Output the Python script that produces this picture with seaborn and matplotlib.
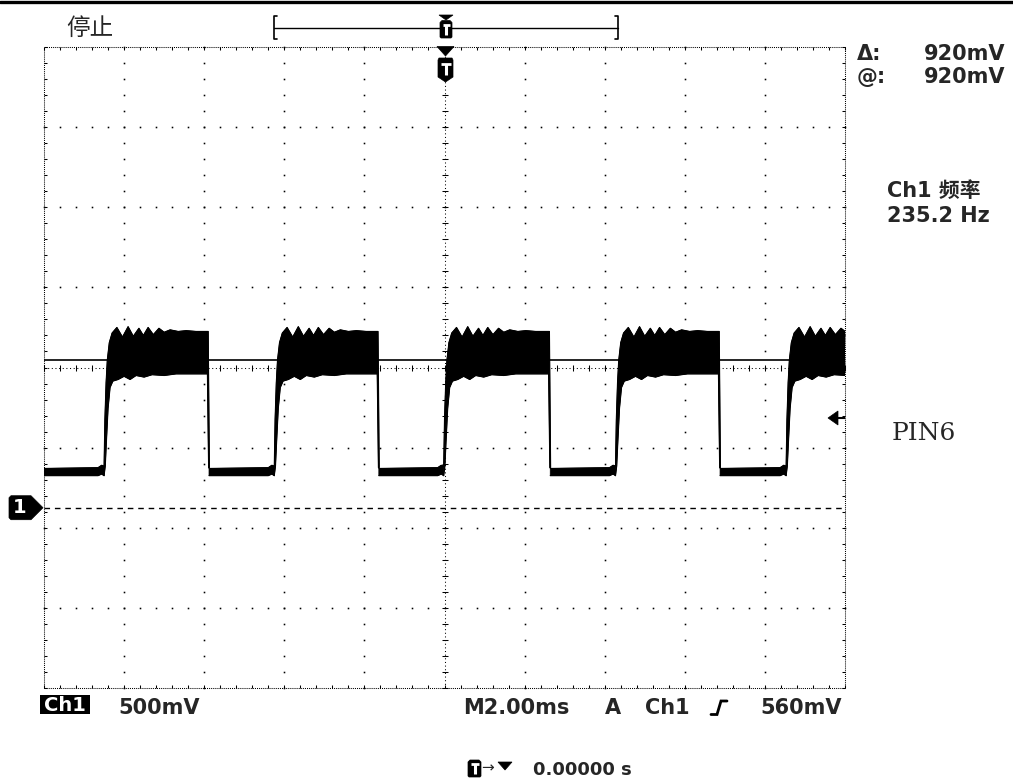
import numpy as np
import pandas as pd
import matplotlib
matplotlib.use("Agg")
import matplotlib.pyplot as plt
import seaborn as sns
from matplotlib.patches import Polygon, Rectangle
from matplotlib.lines import Line2D
from matplotlib.collections import LineCollection

# ---------------- data ----------------
ms_per_div = 2.0
volts_per_div = 0.5
center_v = 0.875
rise_times_ms = [-8.50, -4.25, -0.02, 4.27, 8.53]
fall_times_ms = [-5.90, -1.66, 2.62, 6.86]
upper_dt_ms = [0.00, 0.02, 0.05, 0.08, 0.13, 0.20, 0.32, 0.46, 0.60, 0.73,
               0.87, 0.98, 1.10, 1.23, 1.37, 1.50, 1.65, 1.85, 2.05, 2.30]
upper_v = [0.26, 0.55, 0.78, 0.92, 1.03, 1.09, 1.125, 1.065, 1.13, 1.07,
           1.12, 1.075, 1.125, 1.08, 1.12, 1.095, 1.11, 1.10, 1.105, 1.10]
lower_dt_ms = [0.00, 0.03, 0.06, 0.10, 0.15, 0.22, 0.35, 0.50, 0.65, 0.80,
               1.00, 1.20, 1.50, 1.80, 2.30]
lower_v = [0.20, 0.26, 0.42, 0.62, 0.75, 0.79, 0.80, 0.82, 0.80, 0.825,
           0.815, 0.83, 0.825, 0.835, 0.835]
plateau_top_v = 1.10
plateau_bottom_v = 0.835
low_top_v = 0.245
low_bottom_v = 0.200
pre_rise_dt_ms = [-0.15, -0.06, 0.0]
pre_rise_top_v = [0.25, 0.265, 0.26]
pre_rise_bottom_v = [0.20, 0.21, 0.20]
fall_foot_v = 0.25
cursor_v = 0.92
trigger_v = 0.56
ground_v = 0.0

status_label = "停止"
cursor_delta_label = "920mV"
cursor_at_label = "920mV"
freq_title = "Ch1 频率"
freq_value = "235.2 Hz"
channel_name = "PIN6"
ch_label = "Ch1"
volt_scale_label = "500mV"
time_scale_label = "M2.00ms"
trig_mode_label = "A"
trig_src_label = "Ch1"
trig_level_label = "560mV"
trig_pos_label = "0.00000 s"

# ---------------- figure ----------------
sns.set_style("white")
plt.rcParams['font.family'] = ['DejaVu Sans', 'Noto Sans CJK SC']

W, H = 1013, 780
fig = plt.figure(figsize=(W / 100, H / 100), dpi=100)
fig.patch.set_facecolor("white")
ax = fig.add_axes([44 / W, (H - 688) / H, 801 / W, 641 / H])
x0, x1 = -5 * ms_per_div, 5 * ms_per_div
y0, y1 = center_v - 4 * volts_per_div, center_v + 4 * volts_per_div
ax.set_xlim(x0, x1)
ax.set_ylim(y0, y1)
ax.axis("off")

pt = (x1 - x0) / 801.0   # ms per pixel
pv = (y1 - y0) / 641.0   # V per pixel

# ---------------- graticule ----------------
dot = dict(ls="none", marker="s", ms=1.15, mew=0, color="black", clip_on=False)
major_t = x0 + np.arange(11) * ms_per_div
major_v = y0 + np.arange(9) * volts_per_div
minor_t = x0 + np.arange(51) * ms_per_div / 5
minor_v = y0 + np.arange(41) * volts_per_div / 5
for t in major_t[1:-1]:
    if abs(t) < 1e-9:
        continue
    ax.plot(np.full_like(minor_v, t), minor_v, **dot)
for v in major_v[1:-1]:
    if abs(v - center_v) < 1e-9:
        continue
    ax.plot(minor_t, np.full_like(minor_t, v), **dot)

dense = dict(color="black", lw=0.75, clip_on=False)
ax.plot([0, 0], [y0, y1], ls=(0, (1, 2.5)), **dense)
ax.plot([x0, x1], [center_v, center_v], ls=(0, (1, 2.5)), **dense)
ax.plot([x0, x1, x1, x0, x0], [y0, y0, y1, y1, y0], ls=(0, (1, 1)), **dense)

ticks = []
for v in minor_v:
    ticks.append([(-3 * pt, v), (3 * pt, v)])
    ticks.append([(x0, v), (x0 + 3 * pt, v)])
    ticks.append([(x1, v), (x1 - 3 * pt, v)])
for t in minor_t:
    ticks.append([(t, center_v - 3 * pv), (t, center_v + 3 * pv)])
    ticks.append([(t, y0), (t, y0 + 3 * pv)])
    ticks.append([(t, y1), (t, y1 - 3 * pv)])
ax.add_collection(LineCollection(ticks, colors="black", linewidths=0.75, clip_on=False))

# ground reference (dashed) and cursor line
ax.axhline(ground_v, color="black", lw=1.0, ls=(0, (4, 3.5)))
ax.axhline(cursor_v, color="black", lw=1.2)

# ---------------- trace ----------------
polys = []
rows = []
prev_end = x0
for i, tr in enumerate(rise_times_ms):
    lt = [prev_end] + [tr + d for d in pre_rise_dt_ms]
    ltop = [low_top_v] + pre_rise_top_v
    lbot = [low_bottom_v] + pre_rise_bottom_v
    polys.append(list(zip(lt, ltop)) + list(zip(lt[::-1], lbot[::-1])))
    for t, v in zip(lt, ltop):
        rows.append((f"low{i}t", t, v))
    for t, v in zip(lt, lbot):
        rows.append((f"low{i}b", t, v))

    tf = fall_times_ms[i] if i < len(fall_times_ms) else x1 + 0.5
    keep_u = [(tr + d, u) for d, u in zip(upper_dt_ms, upper_v) if tr + d < tf]
    keep_b = [(tr + d, b) for d, b in zip(lower_dt_ms, lower_v) if tr + d < tf - 0.02]
    up = keep_u + [(tf, plateau_top_v), (tf + 0.03, fall_foot_v)]
    bt = keep_b + [(tf - 0.02, plateau_bottom_v), (tf + 0.01, fall_foot_v)]
    polys.append(up + bt[::-1])
    for t, v in up:
        rows.append((f"hi{i}t", t, v))
    for t, v in bt:
        rows.append((f"hi{i}b", t, v))
    prev_end = tf + 0.02

for p in polys:
    ax.add_patch(Polygon(p, closed=True, fc="black", ec="black", lw=0.5))

trace = pd.DataFrame(rows, columns=["seg", "t", "v"])
sns.lineplot(data=trace, x="t", y="v", units="seg", estimator=None, sort=False,
             color="black", lw=0.8, ax=ax, legend=False)
ax.set_xlim(x0, x1)
ax.set_ylim(y0, y1)
ax.axis("off")

# ---------------- helpers in pixel space ----------------
def F(x, y):
    return (x / W, 1 - y / H)

def fline(xs, ys, **kw):
    fig.add_artist(Line2D([x / W for x in xs], [1 - y / H for y in ys],
                          transform=fig.transFigure, **kw))

def fpoly(pts, **kw):
    fig.add_artist(Polygon([F(x, y) for x, y in pts], closed=True,
                           transform=fig.transFigure, **kw))

def ftext(x, y, s, **kw):
    fig.text(x / W, 1 - y / H, s, **kw)

def data_to_px_y(v):
    fig.canvas.draw()
    yd = ax.transData.transform((0, v))[1]
    return H - yd

def t_icon(cx, top, bot, half, shield=False):
    if shield:
        pts = [(cx - half + 1, top), (cx + half - 1, top), (cx + half, top + 2),
               (cx + half, bot - 5), (cx, bot), (cx - half, bot - 5), (cx - half, top + 2)]
    else:
        pts = [(cx - half + 2, top), (cx + half - 2, top), (cx + half, top + 2),
               (cx + half, bot - 1), (cx + half - 1, bot), (cx - half + 1, bot),
               (cx - half, bot - 1), (cx - half, top + 2)]
    fpoly(pts, fc="black", ec="black", lw=0.5)
    bar_y = top + (bot - top) * 0.25
    fline([cx - half + 2.5, cx + half - 2.5], [bar_y, bar_y], color="white", lw=2.0,
          solid_capstyle="butt")
    fline([cx, cx], [bar_y, bot - (bot - top) * (0.28 if shield else 0.15)],
          color="white", lw=2.2, solid_capstyle="butt")

# top thick rule
fline([0, W], [1.5, 1.5], color="black", lw=2.4)

# status
ftext(66, 28, status_label, fontsize=17, family=["Noto Sans CJK SC"], va="center", ha="left")

# record-window bracket
fline([274, 618], [28, 28], color="black", lw=1.0)
fline([277, 274, 274, 277], [16, 16, 39, 39], color="black", lw=1.2)
fline([615, 618, 618, 615], [16, 16, 39, 39], color="black", lw=1.2)
fpoly([(439, 15), (453, 15), (446, 20)], fc="black", ec="black", lw=0.5)
t_icon(446, 20.5, 38, 6)

# trigger position marker under the top border
fpoly([(437, 46.5), (454, 46.5), (445.5, 56)], fc="black", ec="black", lw=0.5)
t_icon(445.5, 58, 82, 7.5, shield=True)

# right readouts
bold = dict(fontweight="bold", fontsize=15, va="baseline")
ftext(857, 60, "Δ:", ha="left", **bold)
ftext(1005, 60, cursor_delta_label, ha="right", **bold)
ftext(857, 83, "@:", ha="left", **bold)
ftext(1005, 83, cursor_at_label, ha="right", **bold)
ftext(887, 197, freq_title, ha="left", fontsize=15, va="baseline",
      family=["DejaVu Sans", "Noto Sans CJK SC"], fontweight="bold")
ftext(887, 222, freq_value, ha="left", **bold)
ftext(892, 440, channel_name, ha="left", va="baseline", fontsize=18,
      family=["DejaVu Serif"])

# trigger level arrow on the right
ty = data_to_px_y(trigger_v)
fpoly([(828, ty), (838, ty - 7), (838, ty + 7)], fc="black", ec="black", lw=0.5)
fline([837, 845], [ty, ty], color="black", lw=1.5, solid_capstyle="butt")

# ground marker
gy = data_to_px_y(ground_v)
fpoly([(11, gy - 12), (31, gy - 12), (43, gy), (31, gy + 12), (11, gy + 12),
       (9, gy + 10), (9, gy - 10)], fc="black", ec="black", lw=0.5)
ftext(20, gy, "1", color="white", fontweight="bold", fontsize=14, ha="center", va="center")

# bottom status line
fig.add_artist(Rectangle(F(40, 714), 50 / W, 19 / H, transform=fig.transFigure,
                         fc="black", ec="none"))
ftext(65, 711, ch_label, color="white", ha="center", fontweight="bold", fontsize=14,
      va="baseline")
b2 = dict(fontweight="bold", fontsize=15, va="baseline")
ftext(118, 714, volt_scale_label, ha="left", **b2)
ftext(463, 714, time_scale_label, ha="left", **b2)
ftext(605, 714, trig_mode_label, ha="left", **b2)
ftext(645, 714, trig_src_label, ha="left", **b2)
fline([711, 717, 721, 727], [714.5, 714.5, 701, 701], color="black", lw=2.0,
      solid_joinstyle="miter")
ftext(842, 714, trig_level_label, ha="right", **b2)

# trigger position readout
t_icon(474.5, 760, 777, 6.5)
ftext(481, 768, "→", ha="left", va="center", fontsize=11)
fpoly([(498, 762), (512, 762), (505, 770)], fc="black", ec="black", lw=0.5)
ftext(533, 775, trig_pos_label, ha="left", fontweight="bold", fontsize=13, va="baseline")

fig.savefig("out.png", dpi=100, facecolor="white")
